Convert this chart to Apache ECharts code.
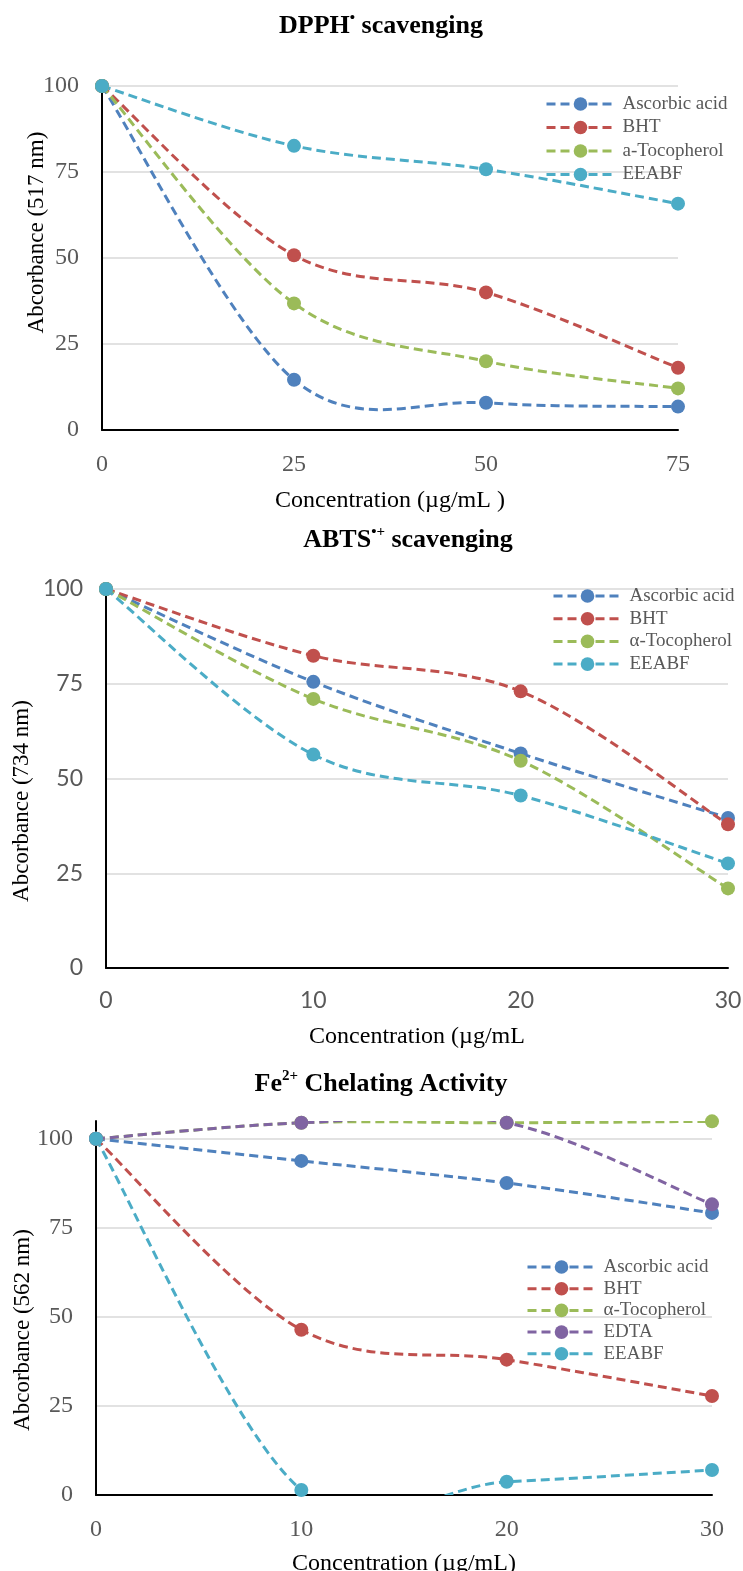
<!DOCTYPE html>
<html><head><meta charset="utf-8">
<script src="https://cdn.jsdelivr.net/npm/echarts/dist/echarts.min.js"></script>
<style>html,body{margin:0;padding:0;background:#fff}#c{width:743px;height:1571px}</style>
</head><body><div id="c"></div>
<script>
// ---- data ----
const conc1 = [0, 25, 50, 75];
const conc2 = [0, 10, 20, 30];
const conc3 = [0, 10, 20, 30];

const dpphAscorbic = [100, 14.6, 7.9, 6.8];
const dpphBHT      = [100, 50.8, 40.0, 18.1];
const dpphToco     = [100, 36.8, 20.0, 12.1];
const dpphEEABF    = [100, 82.6, 75.8, 65.8];

const abtsAscorbic = [100, 75.5, 56.6, 39.6];
const abtsBHT      = [100, 82.4, 73.0, 37.9];
const abtsToco     = [100, 71.0, 54.7, 21.0];
const abtsEEABF    = [100, 56.3, 45.5, 27.6];

const feAscorbic = [100, 93.8, 87.6, 79.2];
const feBHT      = [100, 46.4, 38.0, 27.8];
const feToco     = [100, 104.5, 104.5, 104.9];
const feEDTA     = [100, 104.5, 104.5, 81.6];
const feEEABF    = [100, 1.4, 3.7, 7.0];

const names1 = ['Ascorbic acid', 'BHT', 'a-Tocopherol', 'EEABF'];
const names2 = ['Ascorbic acid', 'BHT', 'α-Tocopherol', 'EEABF'];
const names3 = ['Ascorbic acid', 'BHT', 'α-Tocopherol', 'EDTA', 'EEABF'];

const titles = ['DPPH{s|•} scavenging', 'ABTS{s|•+} scavenging', 'Fe{s|2+} Chelating Activity'];
const yNames = ['Abcorbance (517 nm)', 'Abcorbance (734 nm)', 'Abcorbance (562 nm)'];
const xNames = ['Concentration (µg/mL )', 'Concentration (µg/mL', 'Concentration (µg/mL)'];

// ---- styles ----
const C = {blue:'#4F81BD', red:'#C0504D', green:'#9BBB59', purple:'#8064A2', cyan:'#4BACC6'};
const SERIF = "'Liberation Serif','Times New Roman',serif";
const SANS = "Lato,'Liberation Sans',sans-serif";
const LW = 3, DASH = [9, 5];

// smoothed (Catmull-Rom, Excel-like) curve through the data points, positioned by the axes
function curve(xs, ys, color, idx, clip) {
  return {
    type: 'custom', xAxisIndex: idx, yAxisIndex: idx, silent: true, clip: clip,
    data: xs.map((x, i) => [x, ys[i]]),
    renderItem: function (params, api) {
      if (params.dataIndex !== 0) return null;
      const p = xs.map((x, i) => api.coord([x, ys[i]]));
      const n = p.length;
      let d = 'M' + p[0][0] + ' ' + p[0][1];
      for (let i = 0; i < n - 1; i++) {
        const a = p[Math.max(i - 1, 0)], b = p[i], c = p[i + 1], e = p[Math.min(i + 2, n - 1)];
        const c1x = b[0] + (c[0] - a[0]) / 6, c1y = b[1] + (c[1] - a[1]) / 6;
        const c2x = c[0] - (e[0] - b[0]) / 6, c2y = c[1] - (e[1] - b[1]) / 6;
        d += ' C' + c1x + ' ' + c1y + ' ' + c2x + ' ' + c2y + ' ' + c[0] + ' ' + c[1];
      }
      return {type: 'path', shape: {pathData: d},
        style: {fill: 'none', stroke: color, lineWidth: LW, lineDash: DASH}};
    }
  };
}

function marks(name, xs, ys, color, idx) {
  return {
    type: 'line', name: name, xAxisIndex: idx, yAxisIndex: idx,
    data: xs.map((x, i) => [x, ys[i]]),
    symbol: 'circle', symbolSize: 14, clip: false,
    itemStyle: {color: color},
    lineStyle: {color: color, width: LW, type: DASH, opacity: 0},
    emphasis: {disabled: true}
  };
}

function pair(name, xs, ys, color, idx, clip) {
  return [curve(xs, ys, color, idx, !!clip), marks(name, xs, ys, color, idx)];
}

function xAxis(idx, max, interval, font, size, margin, gap) {
  return {
    type: 'value', gridIndex: idx, min: 0, max: max, interval: interval,
    axisLine: {show: true, onZero: false, lineStyle: {color: '#000', width: 2}},
    axisTick: {show: false}, splitLine: {show: false},
    axisLabel: {color: '#595959', fontFamily: font, fontSize: size, margin: margin},
    name: xNames[idx], nameLocation: 'middle', nameGap: gap, nameMoveOverlap: false,
    nameTextStyle: {color: '#000', fontFamily: SERIF, fontSize: 24}
  };
}

function yAxis(idx, max, font, size, gap, pad, colors) {
  return {
    type: 'value', gridIndex: idx, min: 0, max: max, interval: 25,
    axisLine: {show: true, lineStyle: {color: '#000', width: 2}},
    axisTick: {show: false},
    splitLine: {show: true, lineStyle: {color: colors, width: 1.5}},
    axisLabel: {color: '#595959', fontFamily: font, fontSize: size, margin: 23, showMaxLabel: max === 100},
    name: yNames[idx], nameLocation: 'middle', nameRotate: 90, nameGap: gap, nameMoveOverlap: false,
    nameTextStyle: {color: '#000', fontFamily: SERIF, fontSize: 23, padding: pad}
  };
}

function title(idx, cx, top) {
  return {
    text: titles[idx], left: cx, top: top, textAlign: 'center', padding: 0,
    textStyle: {
      fontFamily: SERIF, fontWeight: 'bold', fontSize: 26, color: '#000', lineHeight: 30,
      rich: {s: {fontFamily: SERIF, fontWeight: 'bold', fontSize: 15, color: '#000', lineHeight: 14, verticalAlign: 'top'}}
    }
  };
}

function legend(names, left, top, gap) {
  return {
    data: names, orient: 'vertical', left: left, top: top, padding: 0,
    itemWidth: 68, itemHeight: 17, itemGap: gap,
    lineStyle: {opacity: 1, width: LW},
    textStyle: {color: '#595959', fontFamily: SERIF, fontSize: 19, lineHeight: 19, padding: [0, 0, 0, 3]},
    selectedMode: false
  };
}

const grey = '#d9d9d9';
const option = {
  animation: false,
  backgroundColor: '#fff',
  title: [title(0, 381, 11), title(1, 408, 525), title(2, 381, 1069)],
  legend: [legend(names1, 545, 94.5, 4.5), legend(names2, 552, 586.5, 3.7), legend(names3, 526, 1257.5, 2.7)],
  grid: [
    {left: 102, top: 86, width: 576, height: 344, outerBoundsMode: 'none'},
    {left: 106, top: 589, width: 622, height: 379, outerBoundsMode: 'none'},
    {left: 96, top: 1121, width: 616, height: 374, outerBoundsMode: 'none'}
  ],
  xAxis: [
    xAxis(0, 75, 25, SERIF, 24, 23, 59),
    xAxis(1, 30, 10, SANS, 23, 21, 57),
    xAxis(2, 30, 10, SERIF, 24, 23, 57)
  ],
  yAxis: [
    yAxis(0, 100, SERIF, 24, 54, [0, 0, 0, 51], [grey]),
    yAxis(1, 100, SANS, 23, 73, [0, 45, 0, 0], [grey]),
    yAxis(2, 105, SERIF, 24, 62, [0, 44, 0, 0], [grey, grey, grey, grey, grey, 'rgba(0,0,0,0)'])
  ],
  series: [].concat(
    pair(names1[0], conc1, dpphAscorbic, C.blue, 0),
    pair(names1[1], conc1, dpphBHT, C.red, 0),
    pair(names1[2], conc1, dpphToco, C.green, 0),
    pair(names1[3], conc1, dpphEEABF, C.cyan, 0),

    pair(names2[0], conc2, abtsAscorbic, C.blue, 1),
    pair(names2[1], conc2, abtsBHT, C.red, 1),
    pair(names2[2], conc2, abtsToco, C.green, 1),
    pair(names2[3], conc2, abtsEEABF, C.cyan, 1),

    pair(names3[0], conc3, feAscorbic, C.blue, 2),
    pair(names3[1], conc3, feBHT, C.red, 2),
    pair(names3[2], conc3, feToco, C.green, 2, true),
    pair(names3[3], conc3, feEDTA, C.purple, 2, true),
    pair(names3[4], conc3, feEEABF, C.cyan, 2, true)
  )
};
const chart = echarts.init(document.getElementById('c'), null, {renderer: 'canvas'});
chart.setOption(option);
</script>
</body></html>
